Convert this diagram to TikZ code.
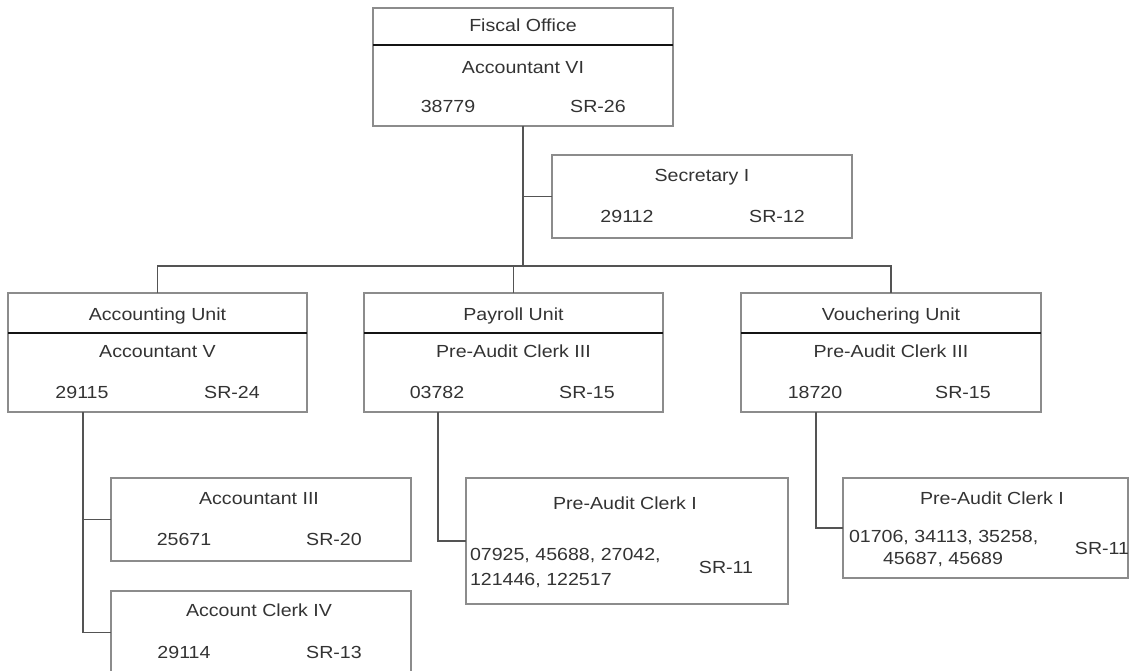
\documentclass[tikz,border=0pt]{standalone}
\usepackage{fontspec}
\setmainfont{Liberation Sans}[FakeStretch=1.12]
\definecolor{bordc}{gray}{0.55}
\definecolor{linkc}{gray}{0.33}
\definecolor{divc}{gray}{0.08}
\definecolor{txtc}{gray}{0.2}
\begin{document}
\begin{tikzpicture}[x=1pt,y=-1pt,
  box/.style={draw=bordc,line width=1.4pt,rectangle,inner sep=0pt,outer sep=0pt},
  link/.style={draw=linkc,line width=1.8pt},
  divline/.style={draw=divc,line width=1.8pt},
  txt/.style={inner sep=0pt,outer sep=0pt,text=txtc,font=\fontsize{17.5}{21.3}\selectfont},
  tb/.style={txt,anchor=base},
  tl/.style={txt,anchor=base west}]
\useasboundingbox (0,0) rectangle (1133,671);
\clip (0,0) rectangle (1133,671);
% boxes
\node[box,minimum width=300pt,minimum height=118pt] (fo) at (523,67) {};
\node[box,minimum width=300pt,minimum height=83pt] (sec) at (702,196.5) {};
\node[box,minimum width=299pt,minimum height=119pt] (acc) at (157.5,352.5) {};
\node[box,minimum width=299pt,minimum height=119pt] (pay) at (513.5,352.5) {};
\node[box,minimum width=300pt,minimum height=119pt] (vou) at (891,352.5) {};
\node[box,minimum width=300pt,minimum height=83pt] (acc3) at (261,519.5) {};
\node[box,minimum width=300pt,minimum height=83pt] (clk) at (261,632.5) {};
\node[box,minimum width=322pt,minimum height=126pt] (pc) at (627,541) {};
\node[box,minimum width=285pt,minimum height=100pt] (vc) at (985.5,528) {};
% dividers
\draw[divline] (fo.west |- 0,45) -- (fo.east |- 0,45);
\draw[divline] (acc.west |- 0,333) -- (acc.east |- 0,333);
\draw[divline] (pay.west |- 0,333) -- (pay.east |- 0,333);
\draw[divline] (vou.west |- 0,333) -- (vou.east |- 0,333);
% connectors
\coordinate (bus) at (0,266);
\coordinate (acct) at (83,0);
\coordinate (payt) at (438,0);
\coordinate (vout) at (816,0);
\draw[link] (fo.south) -- (fo.south |- bus);
\draw[link] (sec.west) -- (sec.west -| fo.south);
\draw[link] (acc.north) -- (acc.north |- bus) -- (vou.north |- bus) -- (vou.north);
\draw[link] (pay.north) -- (pay.north |- bus);
\draw[link] (acct |- acc.south) -- (acct |- clk.west) -- (clk.west);
\draw[link] (acc3.west) -- (acc3.west -| acct);
\draw[link] (payt |- pay.south) -- (payt |- pc.west) -- (pc.west);
\draw[link] (vout |- vou.south) -- (vout |- vc.west) -- (vc.west);
% texts
\node[tb] (t1) at (523,32) {Fiscal Office};
\node[tb] (t2) at (523,74) {Accountant VI};
\node[tb] (t3) at (448,113) {38779};
\node[tb] (t4) at (598,113) {SR-26};
\node[tb] (t5) at (702,181.5) {Secretary I};
\node[tb] (t6) at (627,222.5) {29112};
\node[tb] (t7) at (777,222.5) {SR-12};
\node[tb] (t8) at (157.5,320) {Accounting Unit};
\node[tb] (t9) at (157.5,357) {Accountant V};
\node[tb] (t10) at (82,398) {29115};
\node[tb] (t11) at (232,398) {SR-24};
\node[tb] (t12) at (513.5,320) {Payroll Unit};
\node[tb] (t13) at (513.5,357) {Pre-Audit Clerk III};
\node[tb] (t14) at (437,398) {03782};
\node[tb] (t15) at (587,398) {SR-15};
\node[tb] (t16) at (891,320) {Vouchering Unit};
\node[tb] (t17) at (891,357) {Pre-Audit Clerk III};
\node[tb] (t18) at (815,398) {18720};
\node[tb] (t19) at (963,398) {SR-15};
\node[tb] (t20) at (259,504) {Accountant III};
\node[tb] (t21) at (184,545.5) {25671};
\node[tb] (t22) at (334,545.5) {SR-20};
\node[tb] (t23) at (259,616) {Account Clerk IV};
\node[tb] (t24) at (184,658) {29114};
\node[tb] (t25) at (334,658) {SR-13};
\node[tb] (t26) at (625,509) {Pre-Audit Clerk I};
\node[tl] (t27) at (470,560.5) {07925, 45688, 27042,};
\node[tl] (t28) at (470,585) {121446, 122517};
\node[tb] (t29) at (726,573) {SR-11};
\node[tb] (t30) at (992,504) {Pre-Audit Clerk I};
\node[tl] (t31) at (849,542.5) {01706, 34113, 35258,};
\node[tb] (t32) at (943,564) {45687, 45689};
\node[tb] (t33) at (1102,554) {SR-11};
\end{tikzpicture}
\end{document}
